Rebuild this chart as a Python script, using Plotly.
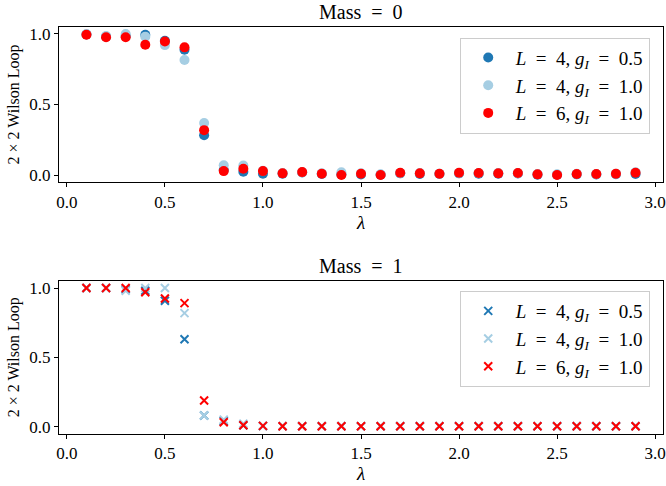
import plotly.graph_objects as go
from plotly.subplots import make_subplots

lam = [0.1, 0.2, 0.3, 0.4, 0.5, 0.6, 0.7, 0.8, 0.9, 1.0,
       1.1, 1.2, 1.3, 1.4, 1.5, 1.6, 1.7, 1.8, 1.9, 2.0,
       2.1, 2.2, 2.3, 2.4, 2.5, 2.6, 2.7, 2.8, 2.9]

# Mass = 0
m0_L4_g05 = [0.995, 0.980, 0.985, 0.993, 0.950, 0.887, 0.282, 0.035, 0.024, 0.009,
             0.010, 0.018, 0.007, 0.005, 0.004, 0.002, 0.012, 0.008, 0.007, 0.012,
             0.010, 0.009, 0.011, 0.003, 0.002, 0.005, 0.004, 0.006, 0.008]
m0_L4_g10 = [0.998, 0.985, 0.998, 0.980, 0.920, 0.814, 0.369, 0.070, 0.068, 0.030,
             0.014, 0.020, 0.012, 0.020, 0.012, 0.006, 0.014, 0.014, 0.010, 0.014,
             0.015, 0.014, 0.013, 0.008, 0.006, 0.009, 0.008, 0.010, 0.020]
m0_L6_g10 = [0.993, 0.976, 0.976, 0.922, 0.946, 0.904, 0.318, 0.028, 0.045, 0.028,
             0.012, 0.021, 0.009, 0.000, 0.009, 0.000, 0.016, 0.012, 0.009, 0.016,
             0.014, 0.012, 0.014, 0.005, 0.000, 0.007, 0.007, 0.009, 0.016]

# Mass = 1
m1_L4_g05 = [1.000, 1.000, 0.990, 0.980, 0.908, 0.630, 0.080, 0.040, 0.010, 0.004,
             0.002, 0.002, 0.002, 0.002, 0.002, 0.002, 0.002, 0.002, 0.002, 0.002,
             0.002, 0.002, 0.002, 0.002, 0.002, 0.002, 0.002, 0.002, 0.002]
m1_L4_g10 = [1.000, 1.000, 0.980, 1.000, 1.000, 0.819, 0.080, 0.050, 0.020, 0.005,
             0.003, 0.003, 0.003, 0.003, 0.003, 0.003, 0.003, 0.003, 0.003, 0.003,
             0.003, 0.003, 0.003, 0.003, 0.003, 0.003, 0.003, 0.003, 0.003]
m1_L6_g10 = [1.000, 1.000, 1.000, 0.969, 0.925, 0.891, 0.188, 0.031, 0.010, 0.005,
             0.003, 0.003, 0.002, 0.002, 0.002, 0.002, 0.002, 0.002, 0.002, 0.002,
             0.002, 0.002, 0.002, 0.002, 0.002, 0.002, 0.002, 0.002, 0.002]

EN = "\u2002"
labels = [f"<i>L</i>{EN}={EN}4, <i>g<sub>I</sub></i>{EN}={EN}0.5",
          f"<i>L</i>{EN}={EN}4, <i>g<sub>I</sub></i>{EN}={EN}1.0",
          f"<i>L</i>{EN}={EN}6, <i>g<sub>I</sub></i>{EN}={EN}1.0"]
colors = ["#1f78b4", "#a6cee3", "#ff0000"]
titles = [f"Mass{EN}={EN}0", f"Mass{EN}={EN}1"]
x_ticks = [0.0, 0.5, 1.0, 1.5, 2.0, 2.5, 3.0]
y_ticks = [0.0, 0.5, 1.0]

FONT = "Liberation Serif"
W, H = 666, 486

fig = make_subplots(rows=2, cols=1)

for i, ys in enumerate([m0_L4_g05, m0_L4_g10, m0_L6_g10]):
    fig.add_trace(go.Scatter(x=lam, y=ys, mode="markers", name=labels[i],
                             marker=dict(symbol="circle", size=10, color=colors[i]),
                             legend="legend"), row=1, col=1)
for i, ys in enumerate([m1_L4_g05, m1_L4_g10, m1_L6_g10]):
    fig.add_trace(go.Scatter(x=lam, y=ys, mode="markers", name=labels[i],
                             marker=dict(symbol="x-thin", size=8,
                                         line=dict(color=colors[i], width=2),
                                         color=colors[i]),
                             legend="legend2"), row=2, col=1)

top_dom = [1 - 182 / H, 1 - 25 / H]
bot_dom = [1 - 436 / H, 1 - 282 / H]

axis_common = dict(showline=True, linecolor="black", linewidth=1, mirror=True,
                   ticks="outside", ticklen=4, tickwidth=1, tickcolor="black",
                   showgrid=False, zeroline=False, ticklabeloverflow="allow",
                   tickfont=dict(family=FONT, size=17, color="black"))

fig.update_xaxes(range=[-0.04, 3.04], tickvals=x_ticks,
                 ticktext=[f"{v:.1f}" for v in x_ticks],
                 title=dict(text="<i>λ</i>", font=dict(family=FONT, size=19, color="black"),
                            standoff=4),
                 **axis_common)
fig.update_yaxes(range=[-0.05, 1.05], tickvals=y_ticks,
                 ticktext=[f"{v:.1f}" for v in y_ticks],
                 title=dict(text="2 × 2 Wilson Loop",
                            font=dict(family=FONT, size=16, color="black"), standoff=5),
                 **axis_common)
fig.update_layout(yaxis=dict(domain=top_dom), yaxis2=dict(domain=bot_dom))

for t, dom in zip(titles, [top_dom, bot_dom]):
    fig.add_annotation(text=t, xref="paper", yref="paper", x=0.5, y=dom[1],
                       yshift=2, xanchor="center", yanchor="bottom", showarrow=False,
                       font=dict(family=FONT, size=20, color="black"))

legend_common = dict(bgcolor="rgba(255,255,255,0.8)", bordercolor="#cccccc",
                     borderwidth=1, xanchor="right", yanchor="top",
                     font=dict(family=FONT, size=19, color="black"),
                     itemwidth=45)

fig.update_layout(
    width=W, height=H,
    margin=dict(l=59, r=1, t=0, b=0),
    paper_bgcolor="white", plot_bgcolor="white",
    showlegend=True,
    legend=dict(x=0.978, y=1 - 36 / H, **legend_common),
    legend2=dict(x=0.978, y=1 - 292 / H, **legend_common),
)

fig.write_html("out.html")
